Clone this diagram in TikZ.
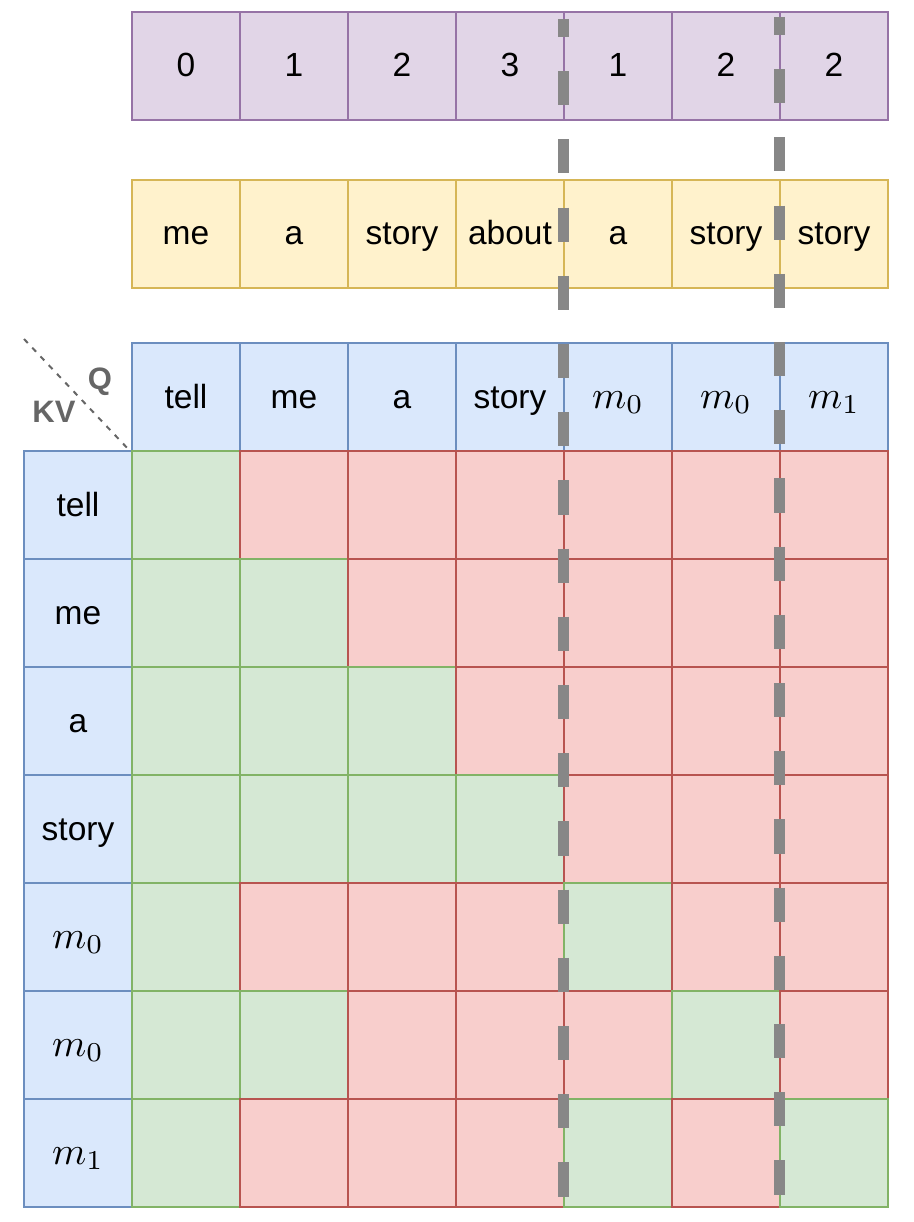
\documentclass[tikz,border=0pt]{standalone}
\usepackage{fontspec}
\setmainfont{Liberation Sans}
\definecolor{pfill}{HTML}{E1D5E7}\definecolor{pdraw}{HTML}{9673A6}
\definecolor{yfill}{HTML}{FFF2CC}\definecolor{ydraw}{HTML}{D6B656}
\definecolor{bfill}{HTML}{DAE8FC}\definecolor{bdraw}{HTML}{6C8EBF}
\definecolor{gfill}{HTML}{D5E8D4}\definecolor{gdraw}{HTML}{82B366}
\definecolor{rfill}{HTML}{F8CECC}\definecolor{rdraw}{HTML}{B85450}
\definecolor{sepgray}{HTML}{878787}
\definecolor{lblgray}{HTML}{666666}
\newcommand{\memtok}[1]{{\normalsize\scalebox{3.9}{$m_{#1}$}}}
\begin{document}
\begin{tikzpicture}[x=1pt,y=-1pt,
  cell/.style={draw, line width=2pt, minimum width=108pt, minimum height=108pt, inner sep=0pt,
    text height=26pt, text depth=4pt, font=\fontsize{33.5}{40}\selectfont},
  pc/.style={cell, fill=pfill, draw=pdraw},
  yc/.style={cell, fill=yfill, draw=ydraw},
  bc/.style={cell, fill=bfill, draw=bdraw},
  gc/.style={cell, fill=gfill, draw=gdraw},
  rc/.style={cell, fill=rfill, draw=rdraw},
  sep/.style={draw=sepgray, line width=11pt, dash pattern=on 34.1pt off 34.1pt, dash phase=16pt},
  diag/.style={draw=lblgray, line width=2pt, dash pattern=on 5.5pt off 6.5pt},
  axlbl/.style={text=lblgray, font=\fontsize{31}{36}\selectfont\bfseries, inner sep=0pt}
]
\useasboundingbox (0,0) rectangle (913,1222);
% position ids row
\foreach \t [count=\j from 0] in {0,1,2,3,1,2,2}
  \node[pc] (p-\j) at (186+108*\j,66) {\t};
% token row
\foreach \t [count=\j from 0] in {me,a,story,about,a,story,story}
  \node[yc] (y-\j) at (186+108*\j,234) {\t};
% query header
\foreach \t [count=\j from 0] in {tell,me,a,story}
  \node[bc] (q-\j) at (186+108*\j,397) {\t};
\node[bc] (q-4) at (618,397) {\memtok{0}};
\node[bc] (q-5) at (726,397) {\memtok{0}};
\node[bc] (q-6) at (834,397) {\memtok{1}};
% key/value column
\foreach \t [count=\i from 0] in {tell,me,a,story}
  \node[bc] (k-\i) at (78,505+108*\i) {\t};
\node[bc] (k-4) at (78,937) {\memtok{0}};
\node[bc] (k-5) at (78,1045) {\memtok{0}};
\node[bc] (k-6) at (78,1153) {\memtok{1}};
% mask grid
\foreach \i/\row in {0/{gc,rc,rc,rc,rc,rc,rc},
                     1/{gc,gc,rc,rc,rc,rc,rc},
                     2/{gc,gc,gc,rc,rc,rc,rc},
                     3/{gc,gc,gc,gc,rc,rc,rc},
                     4/{gc,rc,rc,rc,gc,rc,rc},
                     5/{gc,gc,rc,rc,rc,gc,rc},
                     6/{gc,rc,rc,rc,gc,rc,gc}}
  \foreach \s [count=\j from 0] in \row
    \node[\s] (g-\i-\j) at (186+108*\j,505+108*\i) {};
% corner label
\coordinate (dstart) at (24,339);
\draw[diag] (dstart) -- (q-0.south west);
\node[axlbl] (kvlbl) at (54,412) {KV};
\node[axlbl] (qlbl) at (100,382) {Q};
% separators
\coordinate (s1t) at (563.5,19);
\coordinate (s1b) at (563.5,1207);
\coordinate (s2t) at (779,17);
\coordinate (s2b) at (779,1207);
\draw[sep] (s1t) -- (s1b);
\draw[sep] (s2t) -- (s2b);
\end{tikzpicture}
\end{document}
